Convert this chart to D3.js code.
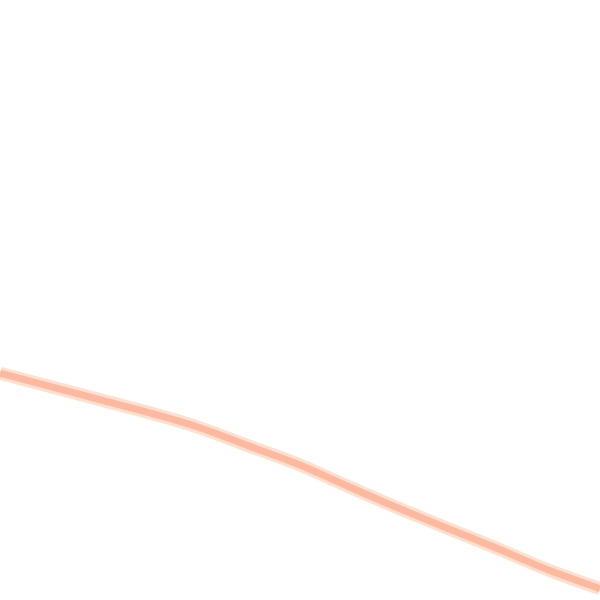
<!DOCTYPE html>
<html>
<head>
<meta charset="utf-8">
<script src="https://cdn.jsdelivr.net/npm/d3@7"></script>
<style>
  html, body { margin: 0; padding: 0; background: #fff; overflow: hidden; }
</style>
</head>
<body>
<div id="chart"></div>
<script>
// values
const steps = [0, 1, 2, 2.5, 3, 3.5, 4, 4.5, 5, 5.5, 6];
const values = [37.8, 33.4, 28.7, 25.6, 22.5, 18.8, 15.2, 11.8, 8.4, 4.9, 1.9];

const width = 600;
const height = 600;

const svg = d3.select("#chart")
  .append("svg")
  .attr("width", width)
  .attr("height", height);

const x = d3.scaleLinear().domain([0, 6]).range([0, width]);
const y = d3.scaleLinear().domain([0, 100]).range([height, 0]);

const line = d3.line()
  .x((d, i) => x(steps[i]))
  .y(d => y(d))
  .curve(d3.curveMonotoneX);

// soft outer edge
svg.append("path")
  .datum(values)
  .attr("fill", "none")
  .attr("stroke", "#fee0cf")
  .attr("stroke-width", 13)
  .attr("d", line);

// main stroke
svg.append("path")
  .datum(values)
  .attr("fill", "none")
  .attr("stroke", "#fdb8a0")
  .attr("stroke-width", 7)
  .attr("d", line);
</script>
</body>
</html>
